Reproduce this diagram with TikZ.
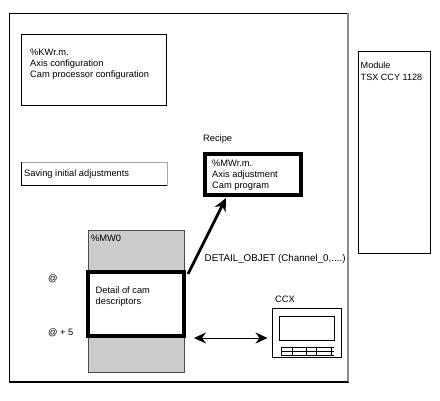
\documentclass[tikz,border=0pt]{standalone}
\usepackage{fontspec}
\setmainfont{Liberation Sans}
\usetikzlibrary{arrows.meta}
\tikzset{
  x=1pt,y=-1pt,
  txt/.style={anchor=west,inner sep=0pt,font=\fontsize{9.3}{11}\selectfont,align=left,text=black},
  box/.style={draw=black,line width=0.8pt,fill=white,inner sep=0pt,outer sep=0pt,anchor=north west},
  thickbox/.style={draw=black,line width=3.6pt,fill=white,inner sep=0pt,outer sep=0pt,anchor=north west},
  fatarrow/.style={draw=black,line width=2.8pt,-{Stealth[length=13pt,width=12pt]}},
  twoway/.style={draw=black,line width=0.9pt,{Stealth[length=12pt,width=11pt]}-{Stealth[length=12pt,width=11pt]}}
}
\begin{document}
\begin{tikzpicture}
\useasboundingbox (0,0) rectangle (440,401);
\fill[white] (0,0) rectangle (440,401);
% outer frame
\node[box,minimum width=338.5pt,minimum height=368.5pt,line width=1.1pt] (frame) at (9.5,13.5) {};
\draw[black!45,line width=1.3pt] (frame.north east) -- (frame.south east);
\draw[black,line width=1.6pt] (frame.south west) -- (frame.south east);
% module
\node[box,minimum width=72pt,minimum height=202pt] (module) at (358,51) {};
\node[txt,font=\fontsize{9.1}{12}\selectfont] (moduletext) at (360.5,71) {Module\\TSX CCY 1128};
% configuration box
\node[box,minimum width=145pt,minimum height=71pt] (kw) at (21,34.5) {};
\node[txt] (kwtext) at (30,64.5) {\%KWr.m.\\Axis configuration\\Cam processor configuration};
% saving box
\node[box,minimum width=146pt,minimum height=23pt,draw=black!35] (saving) at (21,162.5) {};
\draw[black,line width=0.8pt] (saving.north west) -- (saving.south west) -- (saving.south east);
\node[txt] (savingtext) at (24,174.5) {Saving initial adjustments};
% recipe
\node[txt] (recipelabel) at (203,139.5) {Recipe};
\node[thickbox,minimum width=96pt,minimum height=41pt] (recipe) at (205,154) {};
\node[txt] (recipetext) at (212,175) {\%MWr.m.\\Axis adjustment\\Cam program};
% memory
\node[box,minimum width=96pt,minimum height=142pt,fill=black!20,draw=black!70] (mem) at (88,230.5) {};
\node[txt] (memlabel) at (91,238.5) {\%MW0};
\node[thickbox,minimum width=96pt,minimum height=64pt] (detail) at (88,272) {};
\node[txt] (detailtext) at (95.5,296.5) {Detail of cam\\descriptors};
\node[txt] (at) at (48,278.5) {@};
\node[txt] (atfive) at (48,332.5) {@ + 5};
% connectors
\coordinate (recipein) at (226,198);
\coordinate (detailout) at ([xshift=4pt,yshift=-2pt]detail.north east);
\draw[fatarrow] (detailout) -- (recipein);
\node[txt,font=\fontsize{9.8}{11}\selectfont] (call) at (204.5,259) {DETAIL\_OBJET (Channel\_0,....)};
% CCX
\node[txt] (ccxlabel) at (275,299.5) {CCX};
\node[box,minimum width=69pt,minimum height=49pt,line width=1.1pt] (ccx) at (272.5,308.5) {};
\node[box,minimum width=55pt,minimum height=24pt,line width=0.7pt] (screen) at (279.5,316.5) {};
\draw[black,line width=0.5pt] (281,347) -- (334,347) (281,351) -- (334,351) (281,355) -- (334,355)
  (281,347) -- (281,355) (292,347) -- (292,355) (306,347) -- (306,355) (316,347) -- (316,355) (331,347) -- (331,355);
\coordinate (ccxleft) at ([xshift=-5pt,yshift=-5pt]ccx.west);
\coordinate (detailright) at ([xshift=10pt]detail.east|-ccxleft);
\draw[twoway] (detailright) -- (ccxleft);
\end{tikzpicture}
\end{document}
